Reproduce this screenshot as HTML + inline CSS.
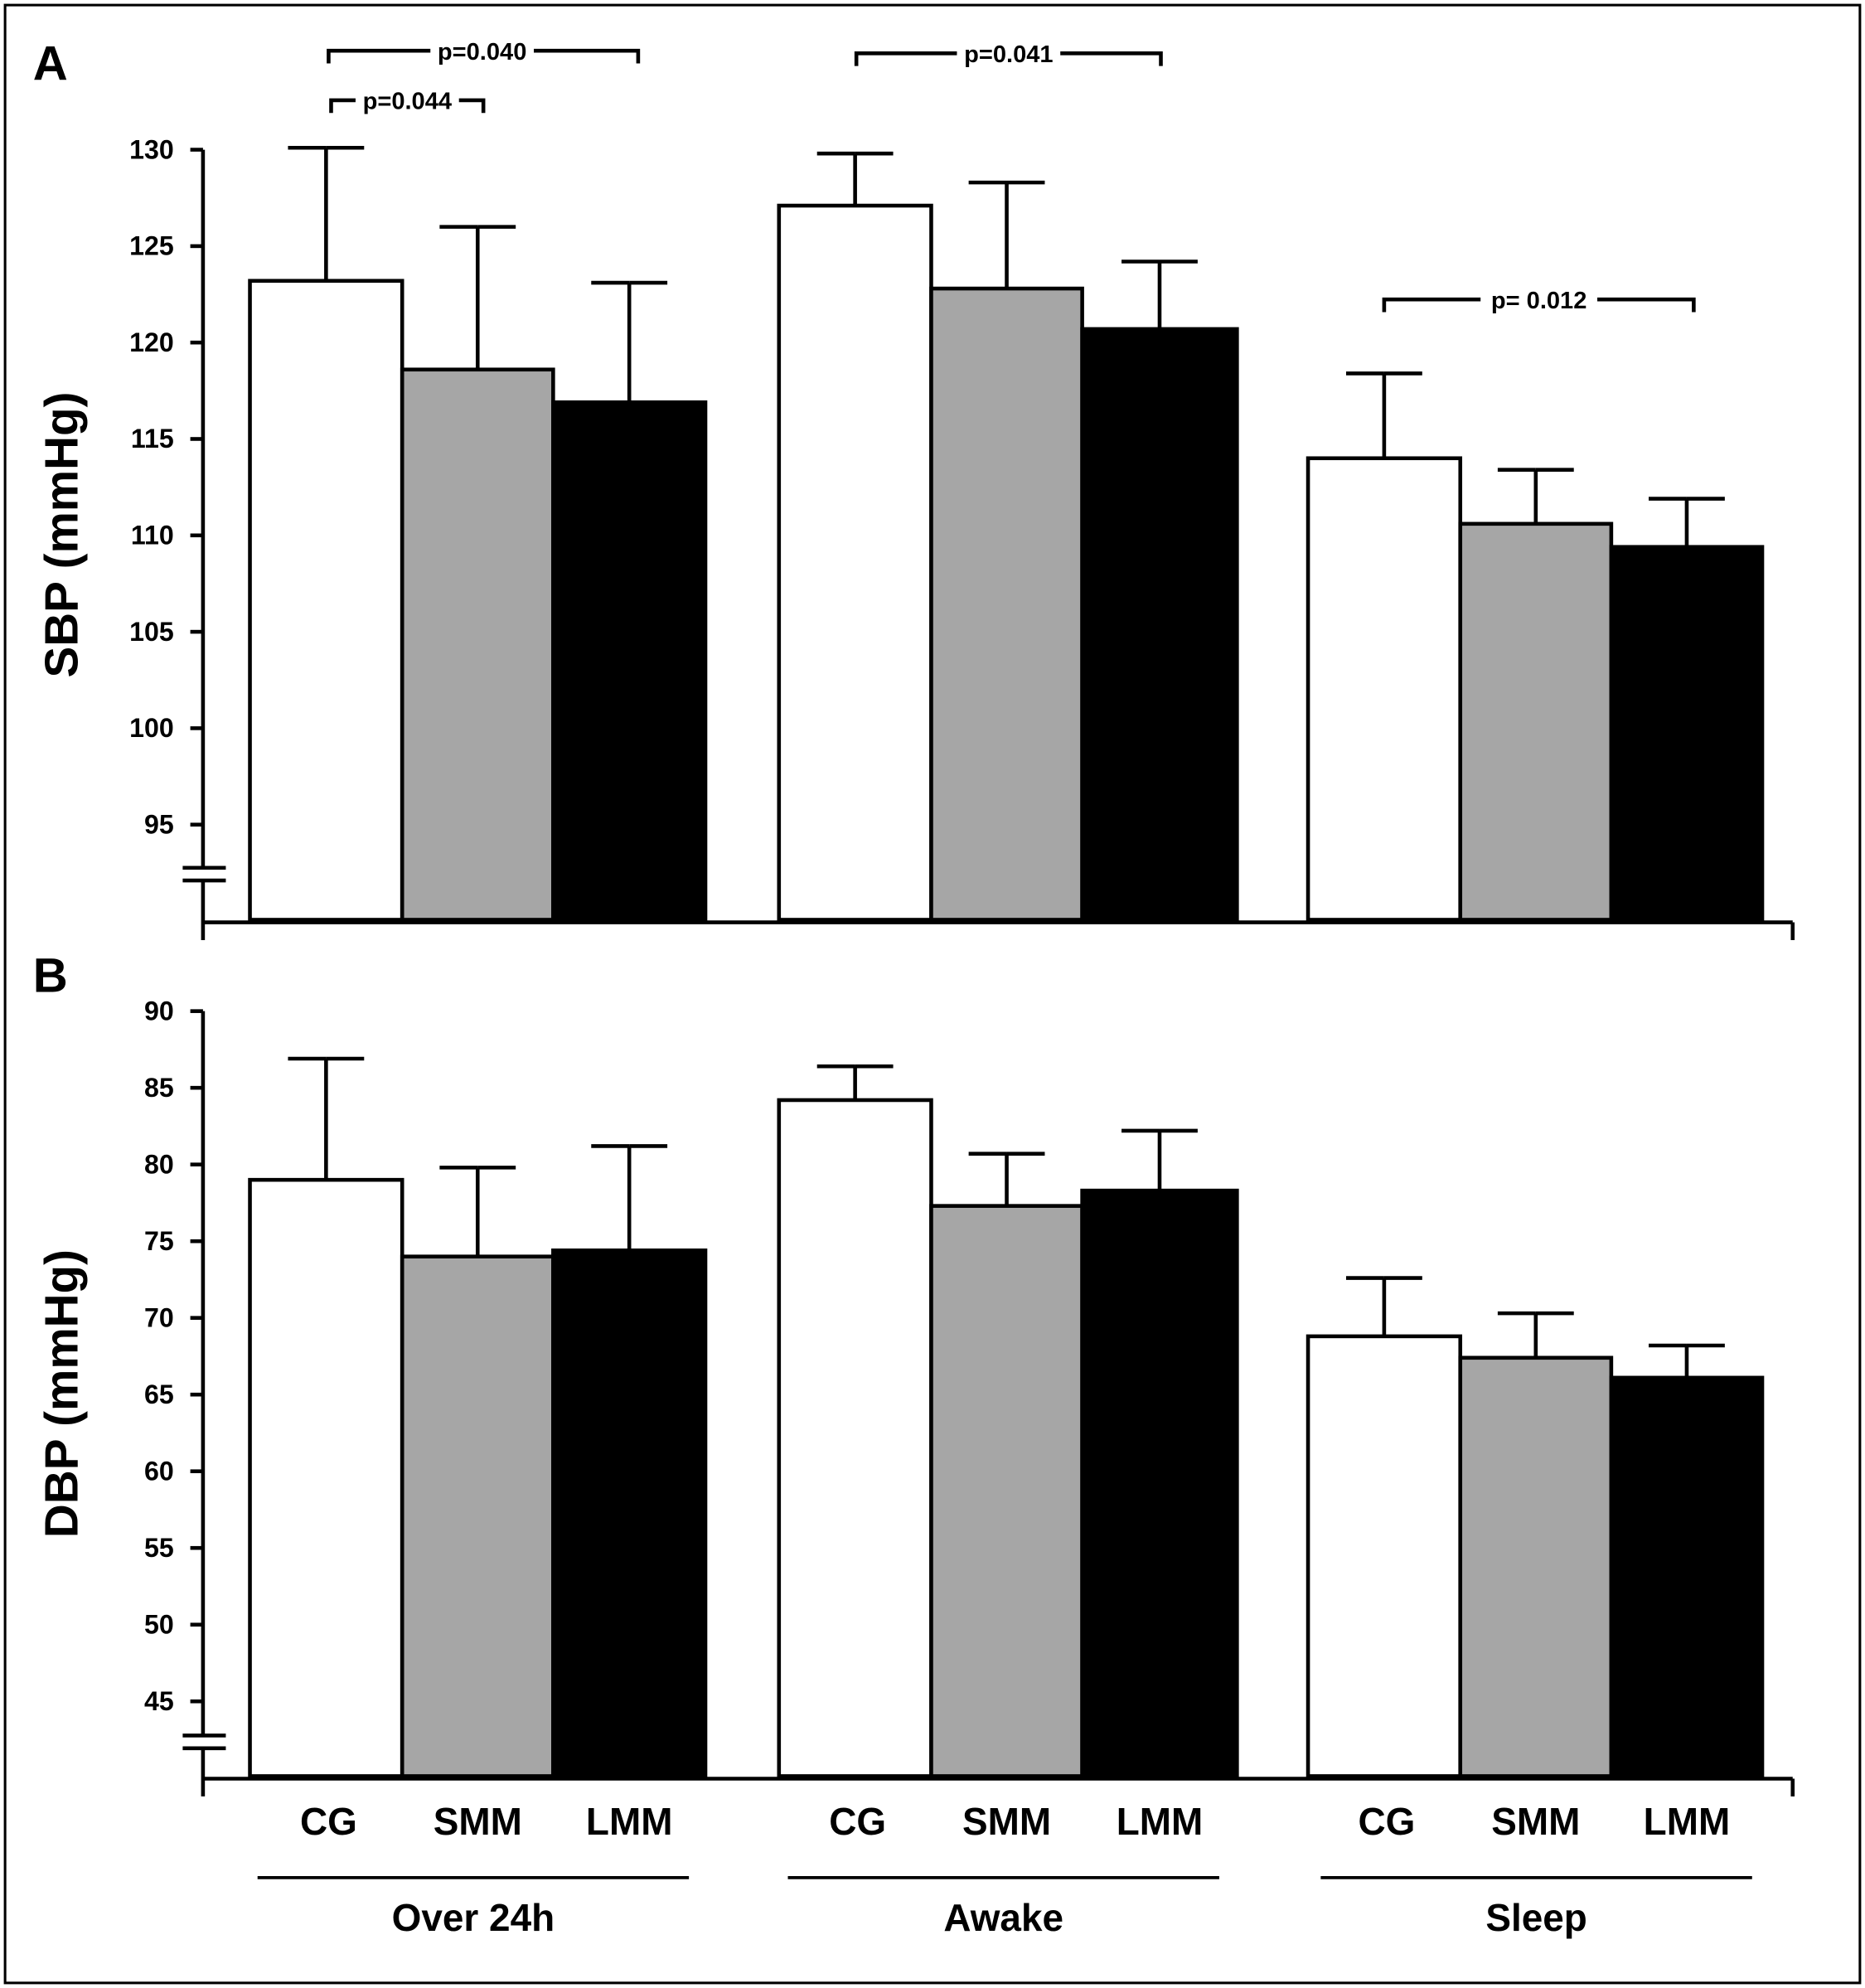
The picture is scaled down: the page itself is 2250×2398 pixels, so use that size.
<!DOCTYPE html>
<html><head><meta charset="utf-8"><style>
html,body{margin:0;padding:0;background:#fff}
svg{display:block}
text{font-family:"Liberation Sans",Arial,sans-serif;font-weight:bold;fill:#000}
</style></head><body>
<svg id="chart" width="2250" height="2398" viewBox="0 0 1470 1567" preserveAspectRatio="none" xmlns="http://www.w3.org/2000/svg">
<rect x="4" y="4" width="1462" height="1559" fill="#fff" stroke="#000" stroke-width="2"/>
<g id="g"></g>
</svg>
<script>
const categories = ["CG","SMM","LMM"];
const groups = ["Over 24h","Awake","Sleep"];
const sbpValues = [[123.2,118.6,116.9],[127.1,122.8,120.7],[114.0,110.6,109.4]];
const sbpErrTop = [[130.1,126.0,123.1],[129.8,128.3,124.2],[118.4,113.4,111.9]];
const dbpValues = [[79.0,74.0,74.4],[84.2,77.3,78.3],[68.8,67.4,66.1]];
const dbpErrTop = [[86.9,79.8,81.2],[86.4,80.7,82.2],[72.6,70.3,68.2]];
const sbpTicks = [95,100,105,110,115,120,125,130];
const dbpTicks = [45,50,55,60,65,70,75,80,85,90];
const sigLabels = ["p=0.040","p=0.044","p=0.041","p= 0.012"];

const NS="http://www.w3.org/2000/svg";
const root=document.getElementById('g');
function el(tag,attrs,parent){const e=document.createElementNS(NS,tag);for(const k in attrs)e.setAttribute(k,attrs[k]);(parent||root).appendChild(e);return e;}
const fills=["#fff","#a6a6a6","#000"];
const groupX=[[197,317,436,556],[614,734,853,975],[1031,1151,1270,1389]];

function panel(name,values,errs,ticks,y0val,y0px,pxPerUnit,base,axisY,breakY,title,letter,letterY){
  const y=v=>y0px-(v-y0val)*pxPerUnit;
  const g=el('g',{});
  
  
  for(let gi=0;gi<3;gi++){for(let c=0;c<3;c++){
    const x0=groupX[gi][c],x1=groupX[gi][c+1],cx=(x0+x1)/2;
    const e=el('line',{x1:cx,x2:cx,y1:y(values[gi][c]),y2:y(errs[gi][c]),stroke:'#000','stroke-width':3},g);
    
    
    const cap=el('line',{x1:cx,x2:cx+30,y1:y(errs[gi][c]),y2:y(errs[gi][c]),stroke:'#000','stroke-width':3},g);
    
    
    const cap2=el('line',{x1:cx-30,x2:cx,y1:y(errs[gi][c]),y2:y(errs[gi][c]),stroke:'#000','stroke-width':3},g);
    
    
    const r=el('rect',{x:x0,y:y(values[gi][c]),width:x1-x0,height:base-y(values[gi][c]),fill:fills[c],stroke:'#000','stroke-width':3},g);
    
    
  }}
  const ya=el('line',{x1:160,x2:160,y1:y(ticks[ticks.length-1]),y2:axisY+14,stroke:'#000','stroke-width':3},g);
  
  
  const xa=el('line',{x1:160,x2:1413,y1:axisY,y2:axisY,stroke:'#000','stroke-width':3},g);
  
  
  const xt=el('line',{x1:1413,x2:1413,y1:axisY,y2:axisY+14,stroke:'#000','stroke-width':3},g);
  
  
  const br=el('rect',{x:150,y:breakY,width:20,height:10,fill:'#fff'},g);
  
  
  [breakY,breakY+10].forEach((by,i)=>{
    const b=el('line',{x1:144,x2:178,y1:by,y2:by,stroke:'#000','stroke-width':3},g);
    
    
  });
  ticks.forEach(t=>{
    const tl=el('line',{x1:150,x2:160,y1:y(t),y2:y(t),stroke:'#000','stroke-width':3},g);
    
    
    const tx=el('text',{x:137,y:y(t)+7,'text-anchor':'end','font-size':21},g);
    tx.textContent=t;
    
    
  });
  const midY=(y(ticks[ticks.length-1])+base)/2;
  const tt=el('text',{x:0,y:0,'text-anchor':'middle','font-size':37,transform:`translate(61,${midY}) rotate(-90)`},g);
  tt.textContent=title;
  
  
  const lt=el('text',{x:26,y:letterY,'font-size':38},g);
  lt.textContent=letter;
  
  
  return y;
}
panel('sbp',sbpValues,sbpErrTop,sbpTicks,130,118,15.2,725,727,684,'SBP (mmHg)','A',63);
panel('dbp',dbpValues,dbpErrTop,dbpTicks,90,797,12.09,1400,1402,1368,'DBP (mmHg)','B',782);

const brackets=[[259,503,40,380,0],[261,381,79,321,1],[675,915,42,795,2],[1091,1335,236,1213,3]];
brackets.forEach((b,i)=>{
  const p=el('path',{d:`M${b[0]},${b[2]+10}V${b[2]}H${b[1]}V${b[2]+10}`,fill:'none',stroke:'#000','stroke-width':3});
  
  
  const w=sigLabels[b[4]].length*10.5+8;
  const bg=el('rect',{x:b[3]-w/2,y:b[2]-12,width:w,height:22,fill:'#fff'});
  
  
  const t=el('text',{x:b[3],y:b[2]+7,'text-anchor':'middle','font-size':19});
  t.textContent=sigLabels[b[4]];
  
  
});

const groupLine=[[203,543],[621,961],[1041,1381]];
for(let gi=0;gi<3;gi++){
  for(let c=0;c<3;c++){
    const cx=(groupX[gi][c]+groupX[gi][c+1])/2+(c==0?2:0);
    const t=el('text',{x:cx,y:1446,'text-anchor':'middle','font-size':30});
    t.textContent=categories[c];
    
    
  }
  const l=el('line',{x1:groupLine[gi][0],x2:groupLine[gi][1],y1:1480,y2:1480,stroke:'#000','stroke-width':2.5});
  
  
  const t=el('text',{x:(groupLine[gi][0]+groupLine[gi][1])/2,y:1522,'text-anchor':'middle','font-size':30});
  t.textContent=groups[gi];
  
  
}
</script>
</body></html>
